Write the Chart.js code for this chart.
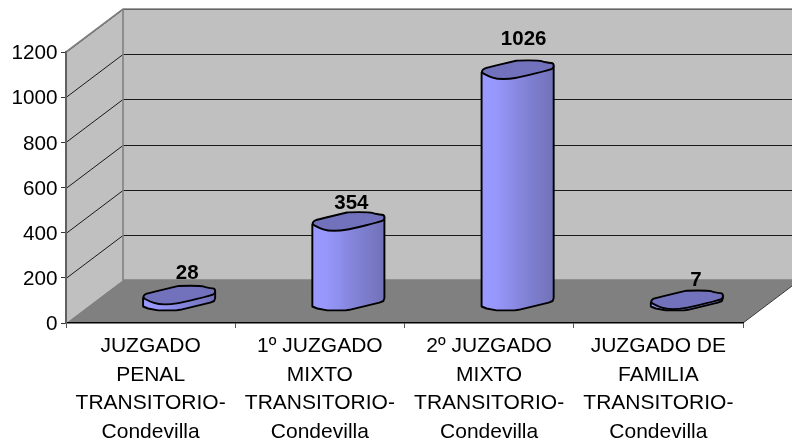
<!DOCTYPE html>
<html><head><meta charset="utf-8">
<style>html,body{margin:0;padding:0;background:#fff}canvas{display:block}</style>
<script src="https://cdn.jsdelivr.net/npm/chart.js@4/dist/chart.umd.min.js"></script>
</head><body><canvas id="c" width="792" height="444"></canvas>
<script>
const categories = [
  ["JUZGADO","PENAL","TRANSITORIO-","Condevilla"],
  ["1º JUZGADO","MIXTO","TRANSITORIO-","Condevilla"],
  ["2º JUZGADO","MIXTO","TRANSITORIO-","Condevilla"],
  ["JUZGADO DE","FAMILIA","TRANSITORIO-","Condevilla"]
];
const values = [28, 354, 1026, 7];
const yTicks = [0, 200, 400, 600, 800, 1000, 1200];

const FONT = '"Liberation Sans", Arial, sans-serif';
const DX = 57, DY = 43;                 // 3-D depth of the plot box
const labelShift = [[8,-22],[3,-18.5],[6,-30.5],[9,-19.5]];
// outline of the cylinder cap, in px around its centre, for a bar 71px wide
const capShape = [[-36,2.8],[-35,-0.5],[-31,-2],[-3,-8.7],[0,-9.4],[22,-9.4],[26,-8],[31,-7],[36,-6.5],[36,-2],[33,0],[2.5,7.3],[-7.5,9.2],[-21,9.2],[-29,6.3],[-32,4.8]];
const baseLower = [[36,-3],[35,0],[31,1.6],[1,8.8],[-3,9.4],[-21,9.4],[-31,7.5],[-36,5.5]];

const bands = [[0,'#9999FF'],[.2,'#9797FB'],[.3,'#9292F3'],[.42,'#8C8CE8'],[.5,'#8787E0'],[.62,'#8282D6'],[.74,'#7C7CCC'],[.84,'#7878C4'],[1,'#7171B8']];

class CylinderBar extends Chart.BarElement {
  static id = 'cylinderBar';
  draw(ctx) {
    const {x, y, base, width} = this.getProps(['x','y','base','width']);
    const k = width / 71, cx = x + DX/2, top = y - DY/2, bot = base - DY/2;
    ctx.save();
    ctx.lineJoin = 'round';
    ctx.strokeStyle = '#000';
    ctx.lineWidth = 1.9;
    const g = ctx.createLinearGradient(cx-36*k,0,cx+36*k,0);
    bands.forEach(b=>g.addColorStop(b[0],b[1]));
    // side
    ctx.beginPath();
    ctx.moveTo(cx-36*k, top+2.8);
    ctx.lineTo(cx+36*k, top-4);
    baseLower.forEach(p=>ctx.lineTo(cx+p[0]*k, bot+p[1]));
    ctx.closePath();
    ctx.fillStyle = g; ctx.fill(); ctx.stroke();
    // cap, with softened corners
    ctx.beginPath();
    const n = capShape.length;
    const pt = i => [cx+capShape[(i+n)%n][0]*k, top+capShape[(i+n)%n][1]];
    const mid = (a,b)=>[(a[0]+b[0])/2,(a[1]+b[1])/2];
    const s = mid(pt(-1),pt(0));
    ctx.moveTo(s[0],s[1]);
    for (let i=0;i<n;i++){ const c=pt(i), m=mid(c,pt(i+1)); ctx.quadraticCurveTo(c[0],c[1],m[0],m[1]); }
    ctx.closePath();
    ctx.fillStyle = '#7272BC'; ctx.fill(); ctx.stroke();
    ctx.restore();
  }
}
class CylinderController extends Chart.BarController {
  static id = 'cylinder';
  static defaults = {...Chart.BarController.defaults, dataElementType: 'cylinderBar'};
  static overrides = Chart.BarController.overrides;
}
Chart.register(CylinderBar, CylinderController);

const box3d = {
  id: 'box3d',
  beforeDraw(chart) {
    const {ctx, chartArea: a, scales} = chart;
    const {left:l, right:r, top:t, bottom:b} = a;
    ctx.save();
    ctx.fillStyle = '#C0C0C0';
    ctx.beginPath(); ctx.moveTo(l,t); ctx.lineTo(l+DX,t-DY); ctx.lineTo(l+DX,b-DY); ctx.lineTo(l,b); ctx.closePath(); ctx.fill();
    ctx.fillRect(l+DX,t-DY,r-l,b-t);
    ctx.fillStyle = '#808080';
    ctx.beginPath(); ctx.moveTo(l,b); ctx.lineTo(r,b); ctx.lineTo(r+DX,b-DY); ctx.lineTo(l+DX,b-DY); ctx.closePath(); ctx.fill();
    ctx.strokeStyle = '#1a1a1a'; ctx.lineWidth = 1;
    scales.y.ticks.forEach(tk=>{
      if (tk.value === 0) return;
      const py = Math.round(scales.y.getPixelForValue(tk.value)) + .5;
      ctx.beginPath(); ctx.moveTo(l,py); ctx.lineTo(l+DX,py-DY); ctx.lineTo(r+DX,py-DY); ctx.stroke();
    });
    ctx.strokeStyle = '#808080'; ctx.lineWidth = 1.6;
    ctx.beginPath(); ctx.moveTo(l,t); ctx.lineTo(l+DX,t-DY); ctx.lineTo(r+DX,t-DY); ctx.stroke();
    ctx.beginPath(); ctx.moveTo(l+DX,t-DY); ctx.lineTo(l+DX,b-DY); ctx.lineTo(r+DX,b-DY); ctx.stroke();
    ctx.strokeStyle = '#3c3c3c'; ctx.lineWidth = 1;
    ctx.beginPath(); ctx.moveTo(r,b); ctx.lineTo(r+DX,b-DY); ctx.stroke();
    ctx.restore();
  }
};
const barLabels = {
  id: 'barLabels',
  afterDatasetsDraw(chart) {
    const {ctx} = chart;
    ctx.save();
    ctx.font = 'bold 20.5px ' + FONT;
    ctx.fillStyle = '#000';
    ctx.textAlign = 'center'; ctx.textBaseline = 'middle';
    chart.getDatasetMeta(0).data.forEach((el,i)=>{
      ctx.fillText(String(values[i]), el.x + DX/2 + labelShift[i][0], el.y - DY/2 + labelShift[i][1]);
    });
    ctx.restore();
  }
};

new Chart(document.getElementById('c'), {
  type: 'cylinder',
  data: { labels: categories, datasets: [{ data: values, backgroundColor: '#9999FF', barPercentage: .42, categoryPercentage: 1 }] },
  plugins: [box3d, barLabels],
  options: {
    responsive: false, animation: false,
    layout: { padding: { top: 52, right: 49, left: 0, bottom: 0 } },
    plugins: { legend: {display:false}, tooltip: {enabled:false}, title: {display:false} },
    scales: {
      x: {
        offset: true,
        afterFit(s){ s.height = 121; },
        border: { color:'#000', width:1.5 },
        grid: { drawOnChartArea:false, drawTicks:true, tickLength:5, tickColor:'#555', offset:true },
        ticks: { color:'#000', font:{family:FONT,size:21,lineHeight:1.36}, maxRotation:0, minRotation:0, autoSkip:false, padding:4 }
      },
      y: {
        min: 0, max: 1200,
        afterFit(s){ s.width = 66; },
        afterBuildTicks(s){ s.ticks = yTicks.map(v=>({value:v})); },
        border: { color:'#606060', width:2 },
        grid: { drawOnChartArea:false, drawTicks:true, tickLength:5, tickColor:'#333' },
        ticks: { color:'#000', font:{family:FONT,size:20.7}, padding:3.5, labelOffset:1.5, callback:v=>String(v) }
      }
    }
  }
});
</script></body></html>
